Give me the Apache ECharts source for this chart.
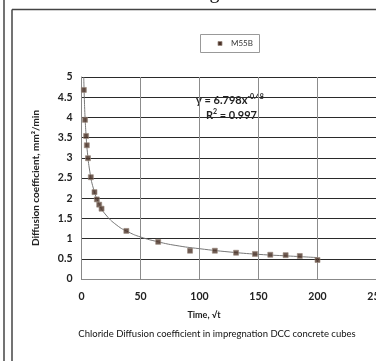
<!DOCTYPE html>
<html>
<head>
<meta charset="utf-8">
<script src="https://cdn.jsdelivr.net/npm/echarts@6/dist/echarts.min.js"></script>
<style>
    html, body { margin: 0; padding: 0; background: #fff; }
    #chart { width: 376px; height: 361px; }
</style>
</head>
<body>
<div id="chart"></div>
<script>
// 数据 (读自图片)
const timeValues = [2, 3, 3.9, 4.5, 5.5, 7.9, 11, 13, 15, 17, 38, 65, 92, 113, 131, 147, 160, 173, 185, 200];
const diffValues = [4.68, 3.94, 3.54, 3.31, 2.99, 2.52, 2.15, 1.97, 1.84, 1.74, 1.19, 0.92, 0.70, 0.70, 0.65, 0.62, 0.60, 0.59, 0.57, 0.47];

// 趋势线 (沿图中曲线读取)
const trendX = [1.9, 2.5, 3, 4, 5, 7, 10, 15, 20, 30, 40, 50, 65, 80, 100, 125, 150, 175, 200];
const trendY = [5.0, 4.38, 4.01, 3.5, 3.14, 2.67, 2.25, 1.85, 1.61, 1.33, 1.16, 1.04, 0.92, 0.83, 0.75, 0.67, 0.61, 0.57, 0.53];

const seriesName = 'M55B';
const xTicks = { min: 0, max: 250, interval: 50 };
const yTicks = { min: 0, max: 5, interval: 0.5 };

const font = 'Lato, "Open Sans", sans-serif';

function initChart() {
    const chart = echarts.init(document.getElementById('chart'));
    const option = {
        animation: false,
        backgroundColor: '#fff',
        grid: {
            left: 81.5,
            top: 77,
            width: 295,
            height: 202,
            outerBoundsMode: 'none',
            containLabel: false
        },
        legend: {
            show: false
        },
        xAxis: {
            type: 'value',
            min: xTicks.min,
            max: xTicks.max,
            interval: xTicks.interval,
            axisLine: { lineStyle: { color: '#888', width: 1 } },
            axisTick: { show: false },
            axisLabel: {
                color: '#222',
                fontFamily: font,
                fontWeight: 'bold',
                fontSize: 10.5,
                margin: 12
            },
            splitLine: { lineStyle: { color: '#8c8c8c', width: 1 } }
        },
        yAxis: {
            type: 'value',
            min: yTicks.min,
            max: yTicks.max,
            interval: yTicks.interval,
            axisLine: { show: true, lineStyle: { color: '#888', width: 1 } },
            axisTick: { show: false },
            axisLabel: {
                color: '#222',
                fontFamily: font,
                fontWeight: 'bold',
                fontSize: 10.5,
                margin: 9
            },
            splitLine: { lineStyle: { color: '#2a2a2a', width: 1.2 } }
        },
        series: [{
            name: 'trend',
            type: 'line',
            data: trendX.map((x, i) => [x, trendY[i]]),
            smooth: true,
            showSymbol: false,
            lineStyle: { color: '#777', width: 1 },
            silent: true,
            z: 2
        }, {
            name: seriesName,
            type: 'scatter',
            data: timeValues.map((x, i) => [x, diffValues[i]]),
            symbol: 'rect',
            symbolSize: 5,
            itemStyle: {
                color: '#4a3126',
                borderColor: '#9a8a80',
                borderWidth: 0.8
            },
            z: 3
        }],
        graphic: [
            // 外框
            { type: 'line', shape: { x1: 4, y1: 0, x2: 4, y2: 361 }, style: { stroke: '#444', lineWidth: 1.5 } },
            { type: 'line', shape: { x1: 12, y1: 9.5, x2: 12, y2: 361 }, style: { stroke: '#444', lineWidth: 1.5 } },
            { type: 'line', shape: { x1: 12, y1: 9.5, x2: 376, y2: 9.5 }, style: { stroke: '#444', lineWidth: 1.5 } },
            // 顶部被截断的标题
            {
                type: 'text', x: 188, y: 3,
                style: { text: 'mm Fig', font: '20px "Liberation Serif", serif', fill: '#111', align: 'center', verticalAlign: 'bottom' }
            },
            // 图例
            {
                type: 'rect', shape: { x: 200.5, y: 34.5, width: 59, height: 18 },
                style: { fill: '#fff', stroke: '#999', lineWidth: 1 }
            },
            {
                type: 'rect', shape: { x: 218, y: 41.5, width: 4, height: 4 },
                style: { fill: '#4a3126', stroke: '#9a8a80', lineWidth: 0.8 }
            },
            {
                type: 'text', x: 231, y: 43.5,
                style: { text: seriesName, font: '8px Lato, sans-serif', fill: '#333', verticalAlign: 'middle' }
            },
            // 拟合公式
            {
                type: 'text', x: 196, y: 100,
                style: {
                    text: '{a|y = 6.798x}{b|-0.48}',
                    verticalAlign: 'middle',
                    rich: {
                        a: { font: 'bold 11px Lato, sans-serif', fill: '#222' },
                        b: { font: 'bold 7px Lato, sans-serif', fill: '#222', padding: [0, 0, 7, 0] }
                    }
                }
            },
            {
                type: 'text', x: 206, y: 115,
                style: {
                    text: '{a|R}{b|2}{a| = 0.997}',
                    verticalAlign: 'middle',
                    rich: {
                        a: { font: 'bold 11px Lato, sans-serif', fill: '#222' },
                        b: { font: 'bold 7px Lato, sans-serif', fill: '#222', padding: [0, 0, 7, 0] }
                    }
                }
            },
            // 坐标轴标题
            {
                type: 'text', x: 204, y: 315,
                style: { text: 'Time, √t', font: 'bold 9px Lato, sans-serif', fill: '#222', align: 'center', verticalAlign: 'middle' }
            },
            {
                type: 'text', x: 36, y: 178, rotation: Math.PI / 2,
                style: { text: 'Diffusion coefficient, mm²/min', font: 'bold 10px Lato, sans-serif', fill: '#222', align: 'center', verticalAlign: 'middle' }
            },
            {
                type: 'text', x: 217, y: 334,
                style: { text: 'Chloride Diffusion coefficient in impregnation DCC concrete cubes', font: '9.5px Lato, sans-serif', fill: '#111', align: 'center', verticalAlign: 'middle' }
            }
        ]
    };
    chart.setOption(option);
}

document.addEventListener('DOMContentLoaded', initChart);
</script>
</body>
</html>
